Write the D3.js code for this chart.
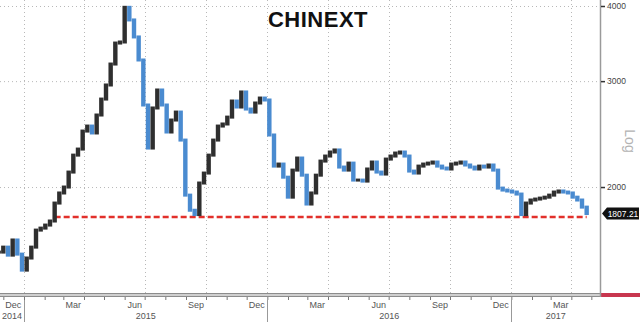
<!DOCTYPE html>
<html>
<head>
<meta charset="utf-8">
<script src="https://cdn.jsdelivr.net/npm/d3@7"></script>
<style>
  body { margin: 0; background: #fff; }
  svg { display: block; font-family: "Liberation Sans", Arial, sans-serif; }
</style>
</head>
<body>
<div id="wrapper"></div>
<script>
// weekly closes of the ChiNext index
const startDate = new Date(2014, 10, 24)
const closes = [
  1559, 1589, 1541, 1633, 1547, 1455, 1524, 1589, 1696, 1709,
  1729, 1756, 1881, 1955, 2000, 2118, 2260, 2313, 2478, 2526,
  2460, 2635, 2801, 2956, 3203, 3471, 3485, 3980, 3792, 3553,
  3253, 2738, 2322, 2707, 2900, 2738, 2469, 2585, 2665, 2394,
  1939, 1830, 1800, 2031, 2110, 2260, 2394, 2526, 2546, 2614,
  2780, 2717, 2878, 2696, 2665, 2759, 2812, 2791, 2441, 2167,
  2184, 2077, 1924, 2134, 2235, 2093, 1874, 1955, 2093, 2209,
  2252, 2287, 2305, 2159, 2134, 2192, 2054, 2054, 2046, 2143,
  2201, 2118, 2102, 2226, 2252, 2278, 2287, 2252, 2126, 2110,
  2167, 2184, 2192, 2201, 2167, 2151, 2143, 2184, 2192, 2201,
  2176, 2159, 2143, 2167, 2159, 2176, 2134, 1992, 1977, 1970,
  1962, 1947, 1800, 1881, 1903, 1910, 1917, 1924, 1939, 1962,
  1970, 1962, 1955, 1924, 1903, 1852, 1807.21
]
const yTicks = [2000, 3000, 4000]
const supportLevel = 1783
const supportStart = new Date(2015, 1, 16)
const lastLabel = '1807.21'
const labelMonths = ['Dec', 'Mar', 'Jun', 'Sep']
const years = ['2014', '2015', '2016', '2017']

const dates = closes.map((d, i) => d3.timeWeek.offset(startDate, i))

const dimensions = {
    width: 640,
    height: 326,
    plotWidth: 600,
    plotHeight: 293
}

const svg = d3.select('#wrapper')
    .append('svg')
    .attr('width', dimensions.width)
    .attr('height', dimensions.height)

const xScale = d3.scaleTime()
    .domain([new Date(2014, 10, 26), new Date(2017, 4, 14)])
    .range([0, dimensions.plotWidth])

const yScale = d3.scaleLog()
    .domain([1333, 4093])
    .range([dimensions.plotHeight, 0])

// dotted grid
const grid = svg.append('g')
    .attr('stroke', '#b8b8b8')
    .attr('stroke-dasharray', '1,3')

grid.selectAll('.hgrid')
    .data(yTicks)
    .enter()
    .append('line')
    .attr('x1', 0)
    .attr('x2', dimensions.plotWidth)
    .attr('y1', d => yScale(d) + 0.5)
    .attr('y2', d => yScale(d) + 0.5)

const quarterStarts = d3.timeMonth.every(3).range(xScale.domain()[0], xScale.domain()[1])
grid.selectAll('.vgrid')
    .data(quarterStarts)
    .enter()
    .append('line')
    .attr('x1', d => Math.round(xScale(d)) + 0.5)
    .attr('x2', d => Math.round(xScale(d)) + 0.5)
    .attr('y1', 0)
    .attr('y2', dimensions.plotHeight)

// support line
svg.append('line')
    .attr('x1', xScale(supportStart))
    .attr('x2', xScale(dates[dates.length - 1]))
    .attr('y1', yScale(supportLevel))
    .attr('y2', yScale(supportLevel))
    .attr('stroke', '#e2302b')
    .attr('stroke-width', 2.5)
    .attr('stroke-dasharray', '6,3')

// bars: each one spans from the previous close to this close
const barWidth = 4.4
const bars = svg.append('g')
bars.selectAll('rect')
    .data(closes)
    .enter()
    .append('rect')
    .attr('x', (d, i) => xScale(dates[i]) - barWidth / 2)
    .attr('width', barWidth)
    .attr('y', (d, i) => yScale(Math.max(d, i > 0 ? closes[i - 1] : d)) - 1.5)
    .attr('height', (d, i) => {
        const prev = i > 0 ? closes[i - 1] : d
        return Math.abs(yScale(prev) - yScale(d)) + 3
    })
    .attr('fill', (d, i) => (i > 0 && d < closes[i - 1]) ? '#4a8bd0' : '#2f2f2f')

// bottom band
svg.append('rect')
    .attr('x', 0)
    .attr('y', dimensions.plotHeight)
    .attr('width', dimensions.plotWidth)
    .attr('height', 4)
    .attr('fill', '#cfcfcf')
svg.append('line')
    .attr('x1', 0).attr('x2', dimensions.plotWidth)
    .attr('y1', dimensions.plotHeight + 0.5).attr('y2', dimensions.plotHeight + 0.5)
    .attr('stroke', '#8c8c8c')
svg.append('line')
    .attr('x1', 0).attr('x2', dimensions.plotWidth)
    .attr('y1', dimensions.plotHeight + 3.5).attr('y2', dimensions.plotHeight + 3.5)
    .attr('stroke', '#8c8c8c')
svg.append('rect')
    .attr('x', dimensions.plotWidth)
    .attr('y', dimensions.plotHeight)
    .attr('width', dimensions.width - dimensions.plotWidth)
    .attr('height', 4)
    .attr('fill', '#c8364f')

// x axis: monthly ticks, labels centred in the month
const xAxisGenerator = d3.axisBottom()
    .scale(xScale)
    .ticks(d3.timeMonth.every(1))
    .tickSize(3)
    .tickFormat('')

const xAxis = svg.append('g')
    .attr('transform', `translate(0,${dimensions.plotHeight + 4})`)
    .call(xAxisGenerator)
xAxis.select('.domain').remove()
xAxis.selectAll('.tick line').attr('stroke', '#777')

const months = d3.timeMonth.range(d3.timeMonth.floor(xScale.domain()[0]), xScale.domain()[1])
    .filter(d => labelMonths.includes(d3.timeFormat('%b')(d)))

svg.append('g')
    .selectAll('text')
    .data(months)
    .enter()
    .append('text')
    .attr('x', d => xScale(new Date(d.getFullYear(), d.getMonth(), 16)))
    .attr('y', 308)
    .attr('text-anchor', 'middle')
    .attr('fill', '#555')
    .style('font-size', '9px')
    .text(d => d3.timeFormat('%b')(d))

const yearSpans = years.map(yr => {
    const a = Math.max(0, xScale(new Date(+yr, 0, 1)))
    const b = Math.min(dimensions.plotWidth, xScale(new Date(+yr + 1, 0, 1)))
    return { label: yr, a, b }
})

svg.append('g')
    .selectAll('text')
    .data(yearSpans)
    .enter()
    .append('text')
    .attr('x', d => (d.a + d.b) / 2)
    .attr('y', 319)
    .attr('text-anchor', 'middle')
    .attr('fill', '#555')
    .style('font-size', '9px')
    .text(d => d.label)

svg.append('g')
    .selectAll('line')
    .data(yearSpans.slice(1))
    .enter()
    .append('line')
    .attr('x1', d => Math.round(d.a) + 0.5)
    .attr('x2', d => Math.round(d.a) + 0.5)
    .attr('y1', 300)
    .attr('y2', 322)
    .attr('stroke', '#999')

// right axis
svg.append('line')
    .attr('x1', dimensions.plotWidth + 0.5)
    .attr('x2', dimensions.plotWidth + 0.5)
    .attr('y1', 0)
    .attr('y2', dimensions.plotHeight + 4)
    .attr('stroke', '#9a9a9a')
    .attr('stroke-width', 1.5)

const yAxisGenerator = d3.axisRight()
    .scale(yScale)
    .tickValues(yTicks)
    .tickFormat(d3.format('d'))
    .tickSize(4)
    .tickPadding(2)

const yAxis = svg.append('g')
    .attr('transform', `translate(${dimensions.plotWidth + 1},0)`)
    .call(yAxisGenerator)
yAxis.select('.domain').remove()
yAxis.selectAll('.tick line').attr('stroke', '#333').attr('stroke-width', 1.5)
yAxis.selectAll('.tick text')
    .attr('fill', '#444')
    .style('font-size', '8.5px')
    .style('font-family', '"Liberation Sans", Arial, sans-serif')

// last value tag
const tag = svg.append('g')
    .attr('transform', `translate(${dimensions.plotWidth + 2},${yScale(closes[closes.length - 1])})`)
tag.append('path')
    .attr('d', 'M0,0 L5,-6 H37 V6 H5 Z')
    .attr('fill', '#111')
tag.append('text')
    .attr('x', 21)
    .attr('y', 3)
    .attr('text-anchor', 'middle')
    .attr('fill', '#fff')
    .style('font-size', '8.5px')
    .text(lastLabel)

// Log label
svg.append('text')
    .attr('transform', 'translate(625,141) rotate(90)')
    .attr('text-anchor', 'middle')
    .attr('fill', '#b3b3b3')
    .style('font-size', '14px')
    .text('Log')

// title
svg.append('text')
    .attr('x', 318)
    .attr('y', 27)
    .attr('text-anchor', 'middle')
    .attr('fill', '#111')
    .style('font-size', '22px')
    .style('font-weight', 'bold')
    .style('letter-spacing', '0.5px')
    .text('CHINEXT')
</script>
</body>
</html>
